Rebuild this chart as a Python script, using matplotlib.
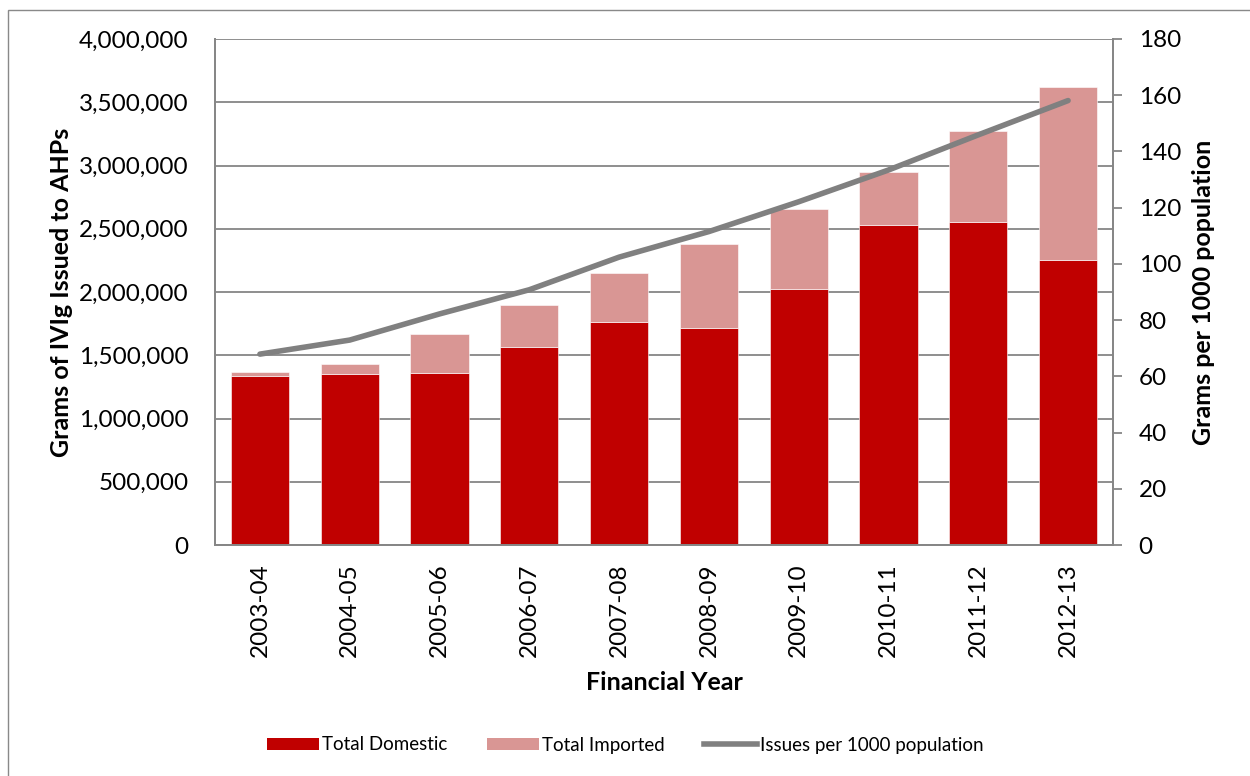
"""
IVIg issues chart: stacked domestic/imported grams with per-1000 population line.
"""
import matplotlib
matplotlib.use("Agg")
import matplotlib.pyplot as plt
from matplotlib.patches import Rectangle
from matplotlib.ticker import FuncFormatter
from matplotlib.lines import Line2D
import numpy as np

# ---------------------------------------------------------------------------
# Data
# ---------------------------------------------------------------------------
years = ["2003-04", "2004-05", "2005-06", "2006-07", "2007-08",
         "2008-09", "2009-10", "2010-11", "2011-12", "2012-13"]
domestic = [1337000, 1353000, 1358000, 1566000, 1764000,
            1719000, 2023000, 2532000, 2555000, 2255000]
imported = [29000, 81000, 309000, 333000, 390000,
            662000, 635000, 419000, 718000, 1368000]
per_1000 = [67.9, 72.9, 82.2, 90.8, 102.4,
            111.5, 122.1, 133.4, 145.9, 158.1]

CLR_DOM = "#C00000"
CLR_IMP = "#D99694"
CLR_LINE = "#808080"
CLR_GRID = "#868686"
CLR_FRAME = "#898989"

W, H = 1250, 776
plt.rcParams["font.family"] = ["Lato", "DejaVu Sans"]

fig = plt.figure(figsize=(W / 100, H / 100), dpi=100)
ax = fig.add_axes([215 / W, 1 - 545 / H, 898 / W, 506 / H])
ax2 = ax.twinx()

x = np.arange(len(years))
ax.bar(x, domestic, 0.65, color=CLR_DOM, edgecolor="white", linewidth=0.4, zorder=2)
ax.bar(x, imported, 0.65, bottom=domestic, color=CLR_IMP, edgecolor="white",
       linewidth=0.4, zorder=2)
ax2.plot(x, per_1000, color=CLR_LINE, linewidth=4, solid_capstyle="round", zorder=3)

ax.set_xlim(-0.5, len(years) - 0.5)
ax.set_ylim(0, 4000000)
ax2.set_ylim(0, 180)
ax.set_yticks(np.arange(0, 4000001, 500000))
ax2.set_yticks(np.arange(0, 181, 20))
ax.yaxis.set_major_formatter(FuncFormatter(lambda v, p: f"{int(v):,}"))

ax.grid(axis="y", color=CLR_GRID, linewidth=1.3, zorder=0)
ax.set_axisbelow(True)

ax.set_xticks(x)
ax.set_xticklabels(years, rotation=90, fontsize=17.5)
ax.tick_params(axis="x", length=0, pad=13)
ax.tick_params(axis="y", labelsize=17.5, length=0, pad=19)
ax2.tick_params(axis="y", labelsize=17.5, length=6.5, color=CLR_GRID, width=1.3, pad=12)

for a in (ax, ax2):
    a.spines["top"].set_visible(False)
    for s in ("left", "right", "bottom"):
        a.spines[s].set_color(CLR_GRID)
        a.spines[s].set_linewidth(1.3)

ax.set_xlabel("Financial Year", fontsize=18, fontweight="bold", labelpad=10)
ax.set_ylabel("Grams of IVIg Issued to AHPs", fontsize=18, fontweight="bold", labelpad=4)
ax2.set_ylabel("Grams per 1000 population", fontsize=18, fontweight="bold", labelpad=8)

handles = [
    Rectangle((0, 0), 1, 1, facecolor=CLR_DOM),
    Rectangle((0, 0), 1, 1, facecolor=CLR_IMP),
    Line2D([0], [0], color=CLR_LINE, linewidth=4),
]
fig.legend(handles, ["Total Domestic", "Total Imported", "Issues per 1000 population"],
           loc="center", bbox_to_anchor=(0.5, 1 - 745 / H), ncol=3, frameon=False,
           fontsize=13.5, handlelength=2.8, handleheight=0.65, handletextpad=0.15,
           columnspacing=2.1)

# outer chart frame (runs off the right and bottom of the image)
fig.patches.append(Rectangle((8 / W, -0.05), 1.1, 1 - 10 / H + 0.05,
                             transform=fig.transFigure, fill=False,
                             edgecolor=CLR_FRAME, linewidth=1))

fig.savefig("out.png", dpi=100, facecolor="white")
